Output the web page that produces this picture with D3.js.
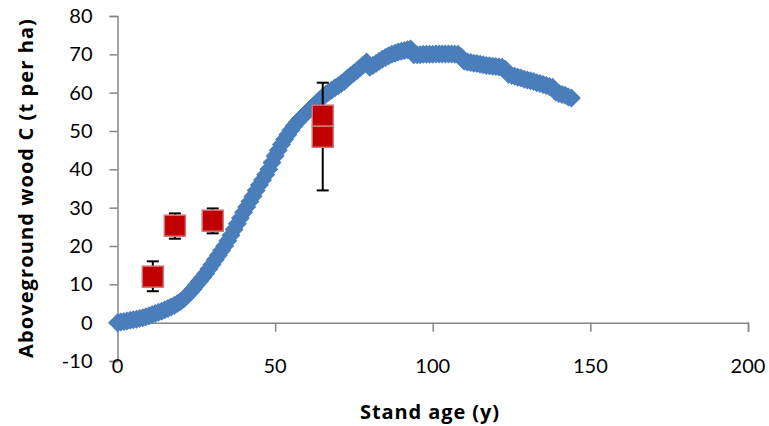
<!DOCTYPE html>
<html>
<head>
<meta charset="utf-8">
<script src="https://cdn.jsdelivr.net/npm/d3@7"></script>
<style>
  body { margin: 0; background: #fff; }
</style>
</head>
<body>
<div id="chart"></div>
<script>
// modelled curve (blue diamonds)
var modelAge = [0,1,2,3,4,5,6,7,8,9,10,11,12,13,14,15,16,17,18,19,20,21,22,23,24,25,26,27,28,29,
  30,31,32,33,34,35,36,37,38,39,40,41,42,43,44,45,46,47,48,49,50,51,52,53,54,55,56,57,58,59,
  60,61,62,63,64,65,66,67,68,69,70,71,72,73,74,75,76,77,78,79,80,81,82,83,84,85,86,87,88,89,
  90,91,92,93,94,95,96,97,98,99,100,101,102,103,104,105,106,107,108,109,110,111,112,113,114,
  115,116,117,118,119,120,121,122,123,124,125,126,127,128,129,130,131,132,133,134,135,136,137,
  138,139,140,141,142,143,144];
var modelC = [0.0,0.15,0.3,0.45,0.6,0.75,0.9,1.1,1.3,1.55,1.8,2.1,2.4,2.7,3.0,3.35,3.7,4.1,4.5,5.0,
  5.5,6.2,7.0,7.9,8.8,9.8,10.8,11.8,12.8,14.0,15.2,16.4,17.6,18.8,20.0,21.4,22.8,24.3,25.8,27.3,
  28.8,30.2,31.6,33.0,34.5,35.9,37.2,38.6,40.0,41.8,43.5,45.0,46.5,47.8,49.0,50.2,51.3,52.3,53.2,54.0,
  54.8,55.6,56.4,57.2,58.0,58.8,59.5,60.1,60.7,61.3,61.8,62.4,63.0,63.8,64.5,65.1,65.8,66.5,67.2,68.0,
  66.6,67.1,67.6,68.2,68.7,69.2,69.6,70.0,70.3,70.6,70.8,71.0,71.2,71.4,69.9,69.9,69.9,70.0,70.0,70.0,
  70.0,70.1,70.1,70.1,70.1,70.1,70.1,70.0,70.0,69.4,68.2,68.0,67.9,67.7,67.6,67.4,67.3,67.1,67.0,66.9,
  66.8,66.7,66.6,66.1,64.8,64.5,64.3,64.0,63.8,63.5,63.3,63.1,62.9,62.6,62.4,62.1,61.9,61.6,61.4,60.2,
  59.8,59.5,59.3,58.9,58.6];

// observed plots (red squares)
var obsAge = [11.2, 18.2, 30.2, 65.1, 65.1];
var obsC = [12.0, 25.3, 26.6, 54.0, 48.5];
var obsLow = [8.2, 21.9, 23.3, null, 34.5];
var obsHigh = [16.0, 28.5, 29.8, null, 62.6];

var xTicks = [0, 50, 100, 150, 200];
var yTicks = [-10, 0, 10, 20, 30, 40, 50, 60, 70, 80];

var width = 769, height = 426;
var margin = {top: 16, right: 21, bottom: 65, left: 117.5};

var svg = d3.select("#chart")
    .append("svg")
    .attr("width", width)
    .attr("height", height);

var x = d3.scaleLinear()
    .domain([0, 200])
    .range([margin.left, width - margin.right]);
var y = d3.scaleLinear()
    .domain([-10, 80])
    .range([height - margin.bottom, margin.top]);

var axisColor = "#868686";
var tickFont = "Lato, sans-serif";
var titleFont = "'Open Sans', sans-serif";

// y axis
var yAxis = svg.append("g")
    .attr("transform", "translate(" + x(0) + ",0)")
    .call(d3.axisLeft(y).tickValues(yTicks).tickSize(8).tickPadding(17)
        .tickFormat(function (d) { return String(d); }));
yAxis.select(".domain").attr("stroke", axisColor).attr("stroke-width", 1.5);
yAxis.selectAll(".tick line").attr("stroke", axisColor).attr("stroke-width", 1.5);
yAxis.selectAll(".tick text")
    .attr("fill", "#000")
    .style("font-size", "20px")
    .style("font-family", tickFont);

// x axis sits at y = 0, labels at the bottom
var xAxis = svg.append("g")
    .attr("transform", "translate(0," + y(0) + ")")
    .call(d3.axisBottom(x).tickValues(xTicks).tickSize(9).tickFormat(""));
xAxis.select(".domain").attr("stroke", axisColor).attr("stroke-width", 1.5);
xAxis.selectAll(".tick line").attr("stroke", axisColor).attr("stroke-width", 1.5);

svg.append("g")
    .selectAll("text")
    .data(xTicks)
    .enter()
    .append("text")
    .attr("x", function (d) { return x(d); })
    .attr("y", y(-10) + 12)
    .attr("text-anchor", "middle")
    .style("font-size", "20px")
    .style("font-family", tickFont)
    .text(function (d) { return d; });

// blue diamonds
var r = 9.5;
var diamond = "M0," + (-r) + "L" + r + ",0L0," + r + "L" + (-r) + ",0Z";
svg.append("g")
    .selectAll("path")
    .data(modelAge)
    .enter()
    .append("path")
    .attr("d", diamond)
    .attr("transform", function (d, i) {
        return "translate(" + x(d) + "," + y(modelC[i]) + ")";
    })
    .attr("fill", "#4a7ebb");

// error bars
var errIdx = obsAge.map(function (d, i) { return i; })
    .filter(function (i) { return obsLow[i] !== null; });
var err = svg.append("g").attr("stroke", "#000").attr("stroke-width", 2);
err.selectAll("line.v")
    .data(errIdx)
    .enter()
    .append("line")
    .attr("class", "v")
    .attr("x1", function (i) { return x(obsAge[i]); })
    .attr("x2", function (i) { return x(obsAge[i]); })
    .attr("y1", function (i) { return y(obsLow[i]); })
    .attr("y2", function (i) { return y(obsHigh[i]); });
[obsLow, obsHigh].forEach(function (arr) {
    err.append("g")
        .selectAll("line")
        .data(errIdx)
        .enter()
        .append("line")
        .attr("x1", function (i) { return x(obsAge[i]) - 6; })
        .attr("x2", function (i) { return x(obsAge[i]) + 6; })
        .attr("y1", function (i) { return y(arr[i]); })
        .attr("y2", function (i) { return y(arr[i]); });
});

// red squares
var s = 21;
svg.append("g")
    .selectAll("rect")
    .data(obsAge)
    .enter()
    .append("rect")
    .attr("x", function (d) { return x(d) - s / 2; })
    .attr("y", function (d, i) { return y(obsC[i]) - s / 2; })
    .attr("width", s)
    .attr("height", s)
    .attr("fill", "#c00000")
    .attr("stroke", "#d27272")
    .attr("stroke-width", 1.5);

// axis titles
svg.append("text")
    .attr("x", 430)
    .attr("y", 419)
    .attr("text-anchor", "middle")
    .style("font-size", "20px")
    .style("letter-spacing", "0.9px")
    .style("font-weight", "bold")
    .style("font-family", titleFont)
    .text("Stand age (y)");

svg.append("text")
    .attr("transform", "translate(33,188) rotate(-90)")
    .attr("text-anchor", "middle")
    .style("font-size", "20px")
    .style("letter-spacing", "1.1px")
    .style("font-weight", "bold")
    .style("font-family", titleFont)
    .text("Aboveground wood C (t per ha)");
</script>
</body>
</html>
